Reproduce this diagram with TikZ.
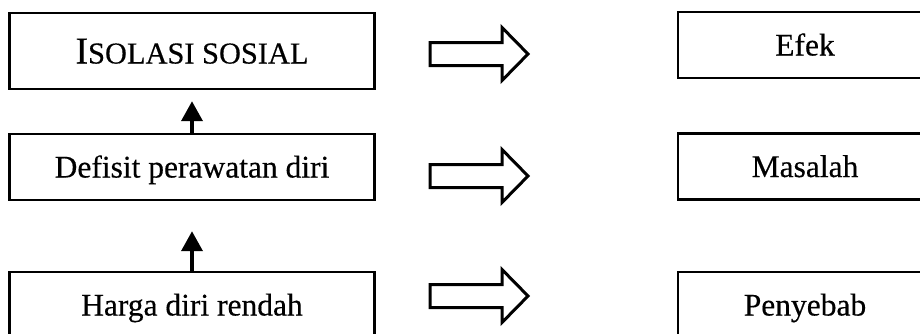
\documentclass[tikz,border=0pt]{standalone}
\usepackage{fontspec}
\setmainfont{Liberation Serif}[FakeBold=0.35]
\usetikzlibrary{arrows.meta}

\tikzset{
  box/.style={draw, line width=2.4pt, inner sep=0pt, align=center,
    font=\fontsize{31.5}{34}\selectfont, text height=21pt, text depth=0pt},
  leftbox/.style={box, minimum width=365pt},
  rightbox/.style={box, minimum width=254pt, minimum height=66pt},
  vlink/.style={line width=3.8pt, -{Triangle[length=20pt,width=21pt]}},
  blockline/.style={draw, line width=3pt, line join=miter, fill=white},
  blockarrow/.pic={
    \path[blockline] (0,-11.5) -- (72,-11.5) -- (72,-26.5) -- (98,0)
      -- (72,26.5) -- (72,11.5) -- (0,11.5) -- cycle;
  }
}

\begin{document}
\begin{tikzpicture}[x=1pt, y=-1pt]
  \useasboundingbox (0,0) rectangle (920,333);
  \clip (0,0) rectangle (920,333);
  \fill[white] (0,0) rectangle (920,333);

  % left column: chain of causes
  \node[leftbox, minimum height=76pt, text height=25pt] (iso) at (192,51)
    {{\fontsize{38}{40}\selectfont I}{\fontsize{30.4}{32}\selectfont SOLASI SOSIAL}};
  \node[leftbox, minimum height=66pt] (def) at (192,167) {Defisit perawatan diri};
  \node[leftbox, minimum height=66pt] (hdr) at (192,305) {Harga diri rendah};

  \draw[vlink, shorten >=11pt] (def) -- (iso);
  \draw[vlink, shorten >=30pt] (hdr) -- (def);

  % hollow arrows pointing to the role of each item
  \pic at (430,54) {blockarrow};
  \pic at (430,176) {blockarrow};
  \pic at (430,296) {blockarrow};

  % right column: roles
  \node[rightbox] (efek) at (805,45) {Efek};
  \node[rightbox] (masalah) at (805,166.5) {Masalah};
  \node[rightbox] (penyebab) at (805,305) {Penyebab};
\end{tikzpicture}
\end{document}
